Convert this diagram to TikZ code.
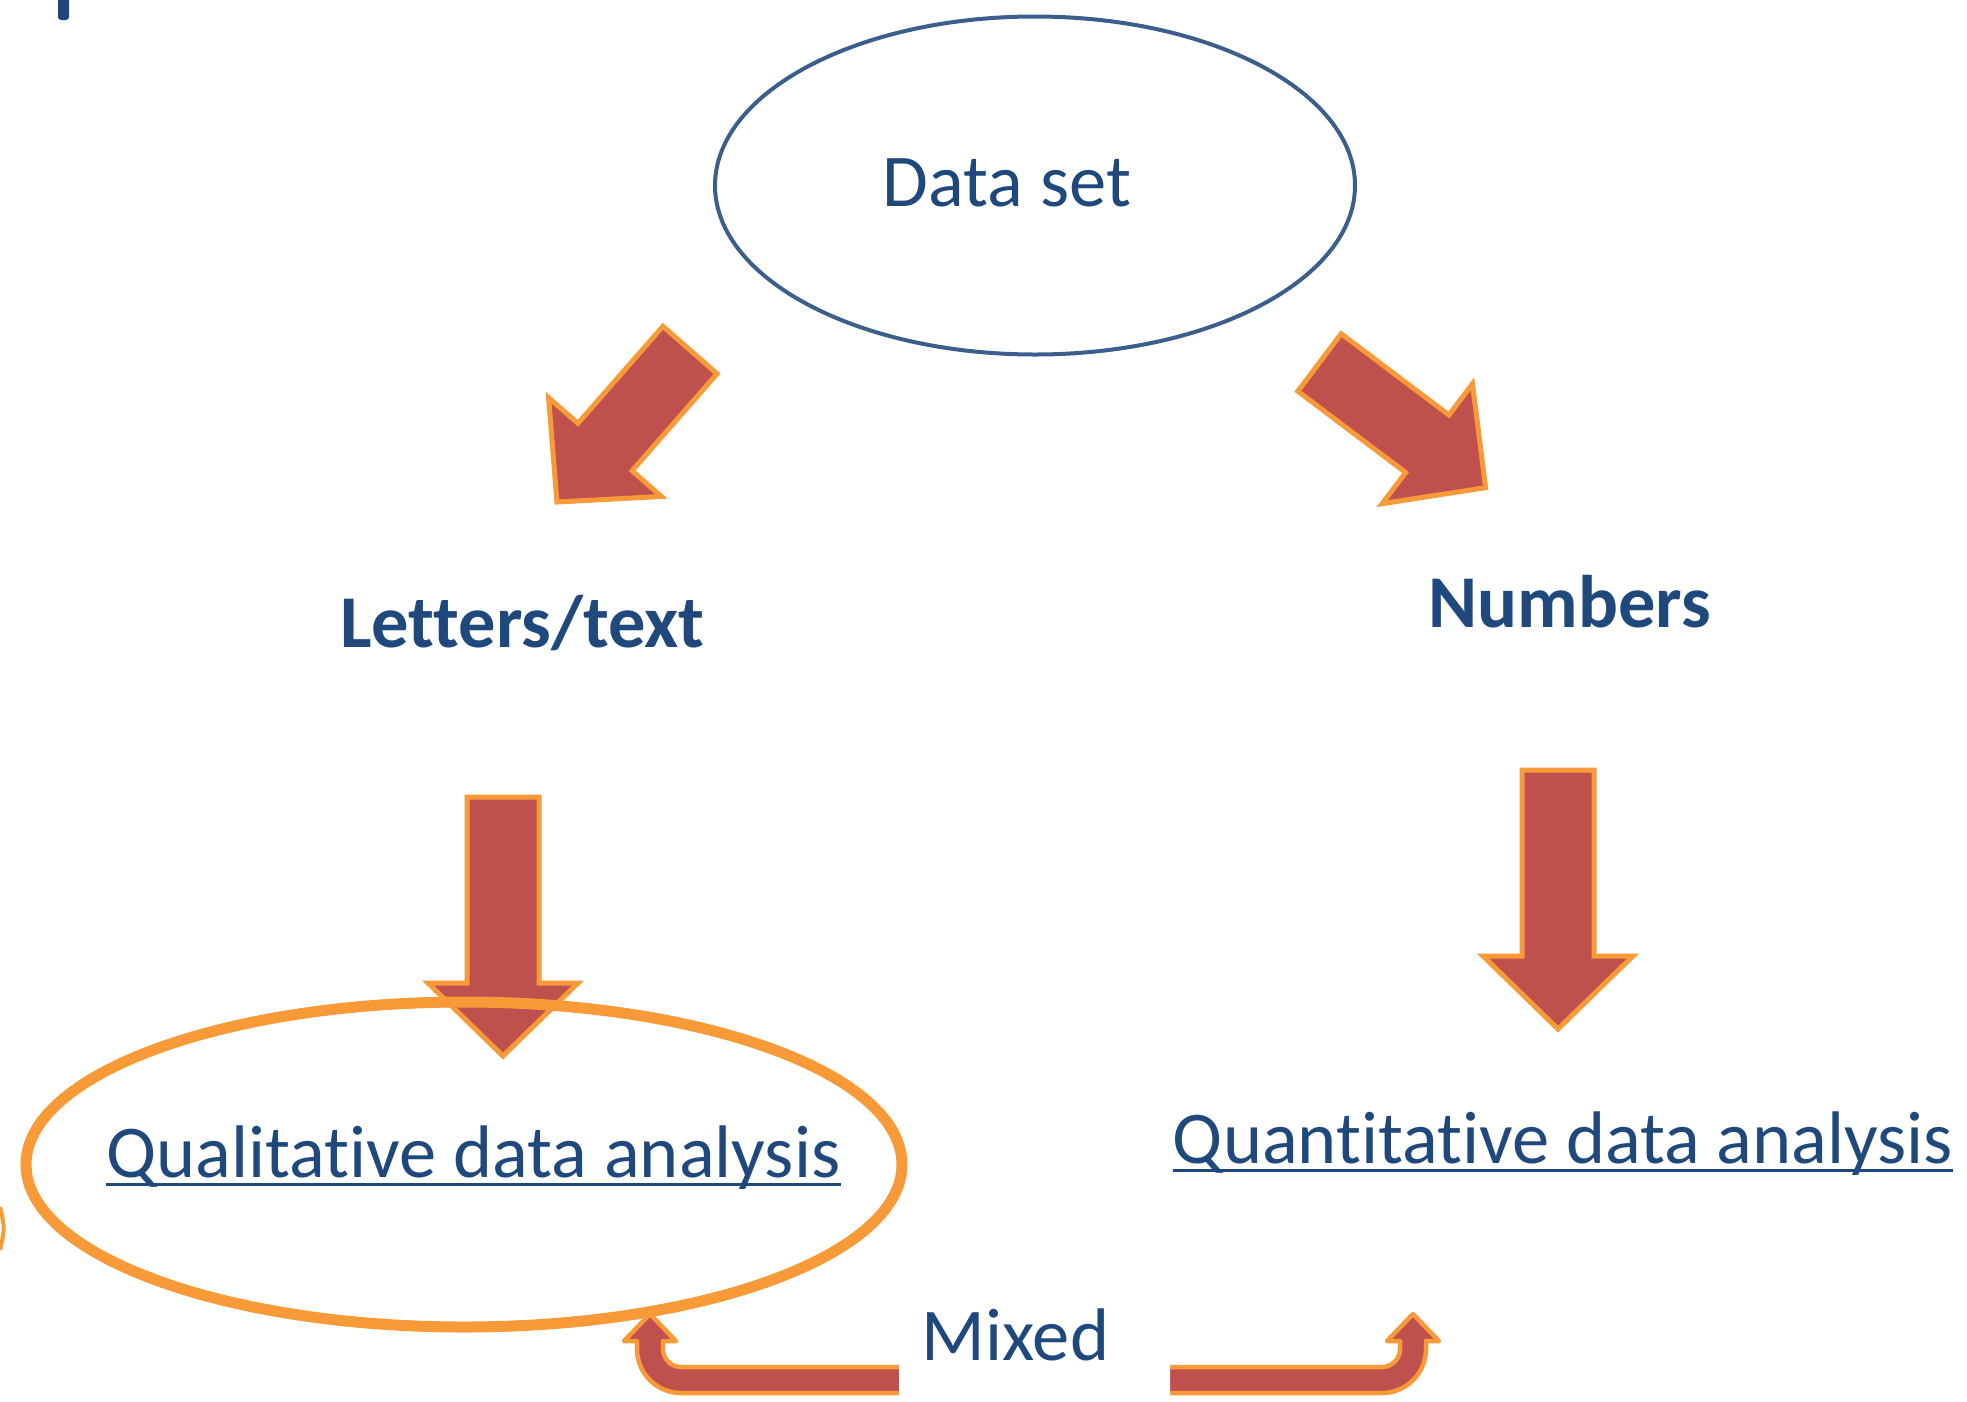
\documentclass[tikz,border=0pt]{standalone}
\usepackage{fontspec}
\setmainfont{Carlito}[Ligatures=NoCommon]
\usetikzlibrary{shapes.geometric}
\definecolor{textblue}{HTML}{1F497D}
\definecolor{ringblue}{HTML}{3B5E8C}
\definecolor{arrowred}{HTML}{C0504D}
\definecolor{arroworange}{HTML}{F99A38}
\tikzset{
	bigtext/.style={text=textblue, font=\fontsize{74.5}{88}\selectfont, inner sep=0pt, anchor=base},
	boldtext/.style={bigtext, font=\fontsize{74.5}{88}\selectfont\bfseries},
	blockarrow/.style={fill=arrowred, draw=arroworange, line width=5pt},
	uarrow/.style={blockarrow, line width=4.5pt, line join=round},
	uline/.style={draw=textblue, line width=3pt},
	ring/.style={ellipse, inner sep=0pt}
}
\newcommand{\barrow}[4]{\draw[blockarrow, shift={(#1,#2)}, rotate=#3] (0,-36) -- (#4-73,-36) -- (#4-73,-75) -- (#4,0) -- (#4-73,75) -- (#4-73,36) -- (0,36) -- cycle;}

\begin{document}
\begin{tikzpicture}[x=1pt, y=-1pt]
		\useasboundingbox (0,0) rectangle (1967,1401);
		\fill[textblue, rounded corners=3pt] (58,-8) rectangle (69,20);
		\draw[arroworange, line width=4pt] (0,1207) .. controls (5,1228) .. (0,1250);

		\node[ring, draw=ringblue, line width=4pt, minimum width=640pt, minimum height=338pt] (datasetring) at (1035,185.5) {};
		\node[bigtext] (dataset) at (1007,206) {Data set};

		\barrow{690}{350}{-131.2}{202}
		\barrow{1319.5}{362.5}{-37}{208}

		\node[boldtext] (letters) at (522.5,647) {Letters/text};
		\node[boldtext] (numbers) at (1570,627) {Numbers};

		\barrow{503}{797}{-90}{259}
		\barrow{1558}{770}{-90}{259}

		\draw[uarrow] (930,1393) -- (681,1393) .. controls (656.7,1393) and (637,1373.3) .. (637,1349) -- (637,1341) -- (624,1341) -- (650,1314) -- (676,1341) -- (663,1341) -- (663,1349) .. controls (663,1358.9) and (671.1,1367) .. (681,1367) -- (930,1367) -- cycle;
		\draw[uarrow] (1140,1367) -- (1382,1367) .. controls (1391.9,1367) and (1400,1358.9) .. (1400,1349) -- (1400,1341) -- (1387,1341) -- (1413,1314) -- (1439,1341) -- (1426,1341) -- (1426,1349) .. controls (1426,1373.3) and (1406.3,1393) .. (1382,1393) -- (1140,1393) -- cycle;

		\node[ring, draw=arroworange, line width=11pt, minimum width=876pt, minimum height=325pt] (qualring) at (464,1164.5) {};
		\node[bigtext] (qualtext) at (473.5,1177) {Qualitative data analysis};
		\draw[uline] ([yshift=-7pt]qualtext.base west) -- ([yshift=-7pt]qualtext.base east);

		\node[bigtext] (quanttext) at (1563,1163) {Quantitative data analysis};
		\draw[uline] ([yshift=-7pt]quanttext.base west) -- ([yshift=-7pt]quanttext.base east);

		\fill[white, rounded corners=6pt] (899,1298) rectangle (1170,1401);
		\node[bigtext] (mixed) at (1015.5,1360) {Mixed};
	\end{tikzpicture}
\end{document}
